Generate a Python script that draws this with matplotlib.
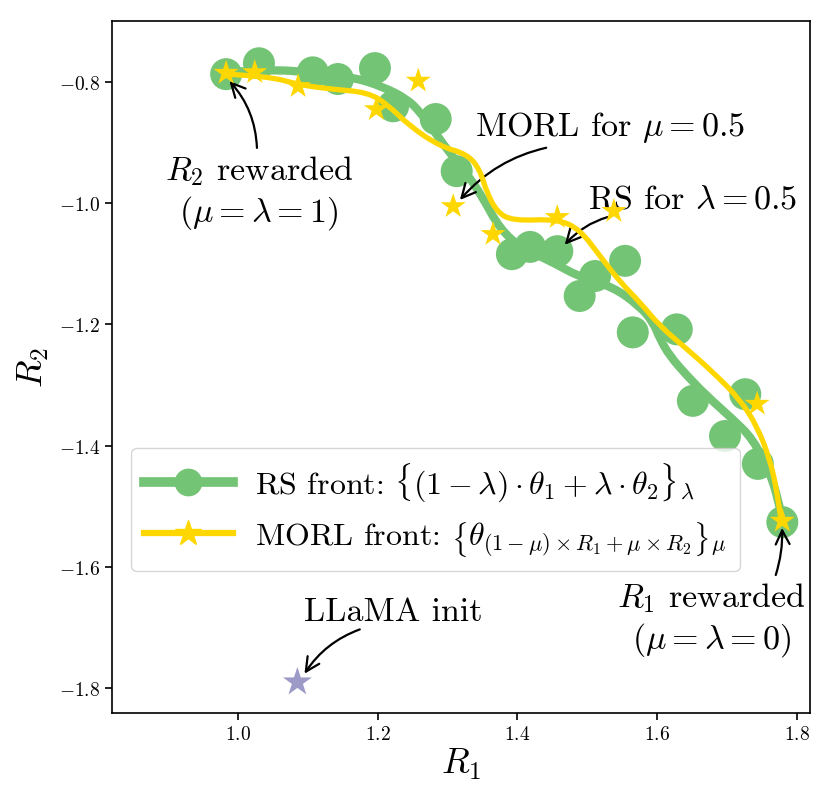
import matplotlib
matplotlib.use("Agg")
import matplotlib.pyplot as plt
from matplotlib.lines import Line2D
from matplotlib.path import Path
from matplotlib.patches import PathPatch

plt.rcParams['mathtext.fontset'] = 'cm'
plt.rcParams['font.family'] = 'serif'
plt.rcParams['font.serif'] = ['cmr10']
plt.rcParams['axes.formatter.use_mathtext'] = True

# RS points (weight interpolation)
rs_r1 = [0.983, 1.030, 1.107, 1.143, 1.196, 1.222, 1.283, 1.313, 1.392, 1.418, 1.457,
         1.489, 1.511, 1.554, 1.565, 1.628, 1.651, 1.697, 1.726, 1.744, 1.779]
rs_r2 = [-0.787, -0.769, -0.784, -0.795, -0.777, -0.840, -0.861, -0.947, -1.084, -1.072, -1.079,
         -1.153, -1.120, -1.095, -1.213, -1.208, -1.326, -1.384, -1.315, -1.430, -1.526]

# MORL points
morl_r1 = [0.983, 1.024, 1.086, 1.198, 1.258, 1.308, 1.365, 1.457, 1.538, 1.743, 1.779]
morl_r2 = [-0.785, -0.784, -0.807, -0.845, -0.798, -1.005, -1.051, -1.023, -1.013, -1.331, -1.524]

# smoothed fronts
rs_curve_r1 = [0.983, 1.042, 1.107, 1.165, 1.208, 1.242, 1.261, 1.279, 1.299, 1.328, 1.349, 1.375,
               1.408, 1.442, 1.489, 1.537, 1.575, 1.594, 1.604, 1.618, 1.643, 1.671, 1.708, 1.737,
               1.761, 1.773, 1.779]
rs_curve_r2 = [-0.784, -0.779, -0.784, -0.792, -0.808, -0.828, -0.850, -0.878, -0.911, -0.952, -0.988,
               -1.043, -1.076, -1.092, -1.122, -1.138, -1.170, -1.196, -1.224, -1.252, -1.285, -1.318,
               -1.356, -1.389, -1.444, -1.488, -1.521]

morl_curve_r1 = [0.981, 1.042, 1.089, 1.136, 1.185, 1.213, 1.246, 1.289, 1.328, 1.346, 1.356, 1.371,
                 1.394, 1.457, 1.489, 1.518, 1.547, 1.575, 1.604, 1.643, 1.680, 1.718, 1.743, 1.761,
                 1.771, 1.777]
morl_curve_r2 = [-0.787, -0.790, -0.805, -0.812, -0.817, -0.836, -0.873, -0.906, -0.919, -0.944, -0.982,
                 -1.015, -1.029, -1.026, -1.043, -1.087, -1.130, -1.163, -1.203, -1.241, -1.279, -1.323,
                 -1.368, -1.422, -1.472, -1.521]

init_r1 = [1.085]
init_r2 = [-1.790]

green = '#74c476'
gold = '#ffd700'
purple = '#9e9ac8'


def smooth_path(xs, ys):
    # quadratic bezier: read points act as control points, joined at midpoints
    verts = [(xs[0], ys[0])]
    codes = [Path.MOVETO]
    for i in range(1, len(xs) - 1):
        mid = ((xs[i] + xs[i + 1]) / 2, (ys[i] + ys[i + 1]) / 2)
        if i == len(xs) - 2:
            mid = (xs[-1], ys[-1])
        verts += [(xs[i], ys[i]), mid]
        codes += [Path.CURVE3, Path.CURVE3]
    return Path(verts, codes)


fig = plt.figure(figsize=(8.31, 8.03), dpi=100)
ax = fig.add_axes([0.1348, 0.1108, 0.8399, 0.8618])

ax.scatter(rs_r1, rs_r2, s=530, color=green, edgecolors='none', zorder=2)
ax.add_patch(PathPatch(smooth_path(rs_curve_r1, rs_curve_r2), fill=False, edgecolor=green,
                       lw=6, capstyle='round', joinstyle='round', zorder=3))
ax.add_patch(PathPatch(smooth_path(morl_curve_r1, morl_curve_r2), fill=False, edgecolor=gold,
                       lw=3.8, capstyle='round', joinstyle='round', zorder=4))
ax.scatter(morl_r1, morl_r2, s=360, marker='*', color=gold, edgecolors='none', zorder=5)
ax.scatter(init_r1, init_r2, s=480, marker='*', color=purple, edgecolors='none', zorder=5)


def arrow(rad, relpos):
    return dict(arrowstyle='->', color='black', lw=1.6, mutation_scale=25,
                connectionstyle='arc3,rad=%s' % rad, relpos=relpos)


fs = 24.5
ax.annotate('$R_2$ rewarded\n$(\\mu=\\lambda=1)$', xy=(0.985, -0.795), xytext=(1.030, -0.9815),
            ha='center', va='center', fontsize=fs, arrowprops=arrow(0.2, (0.49, 1.0)))
ax.annotate('MORL for $\\mu=0.5$', xy=(1.315, -0.998), xytext=(1.532, -0.874),
            ha='center', va='center', fontsize=fs, arrowprops=arrow(0.2, (0.34, 0.0)))
ax.annotate('RS for $\\lambda=0.5$', xy=(1.465, -1.072), xytext=(1.65, -0.993),
            ha='center', va='center', fontsize=fs, arrowprops=arrow(0.2, (0.18, 0.0)))
ax.annotate('$R_1$ rewarded\n$(\\mu=\\lambda=0)$', xy=(1.7785, -1.531), xytext=(1.678, -1.686),
            ha='center', va='center', fontsize=fs, arrowprops=arrow(0.1, (0.83, 1.0)))
ax.annotate('LLaMA init', xy=(1.093, -1.780), xytext=(1.222, -1.673),
            ha='center', va='center', fontsize=fs, arrowprops=arrow(0.2, (0.38, 0.0)))

handles = [
    Line2D([], [], color=green, lw=7, marker='o', markersize=19),
    Line2D([], [], color=gold, lw=4.5, marker='*', markersize=19),
]
labels = [
    'RS front: $\\{(1-\\lambda)\\cdot\\theta_1+\\lambda\\cdot\\theta_2\\}_\\lambda$',
    'MORL front: $\\left\\{\\theta_{(1-\\mu)\\times R_1+\\mu\\times R_2}\\right\\}_\\mu$',
]
leg = ax.legend(handles, labels, loc='lower left', bbox_to_anchor=(0.027, 0.205),
                borderaxespad=0, fontsize=23, handlelength=2.8, handletextpad=0.7,
                framealpha=0.8)
leg.set_zorder(10)

ax.set_xlim(0.8197, 1.8186)
ax.set_ylim(-1.841, -0.6993)
ax.set_xticks([1.0, 1.2, 1.4, 1.6, 1.8])
ax.set_yticks([-1.8, -1.6, -1.4, -1.2, -1.0, -0.8])
ax.tick_params(labelsize=14, length=5, width=1.2)
for sp in ax.spines.values():
    sp.set_linewidth(1.2)
ax.set_xlabel('$R_1$', fontsize=26, labelpad=2)
ax.set_ylabel('$R_2$', fontsize=26, labelpad=6)

fig.savefig('out.png', dpi=100)
